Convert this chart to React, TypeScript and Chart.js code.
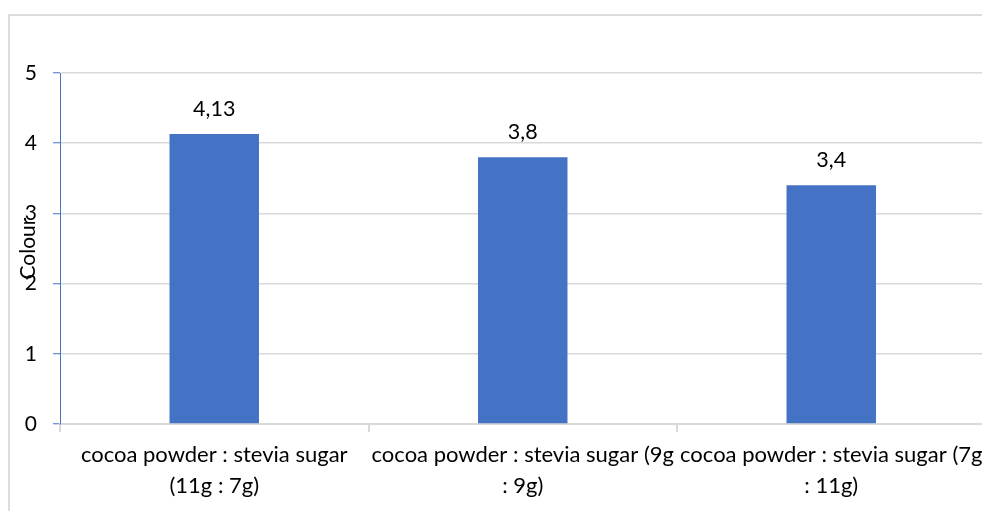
import React, { useEffect, useRef } from "react";
import { Chart, registerables } from "chart.js";

Chart.register(...registerables);

const categories: string[][] = [
  ["cocoa powder : stevia sugar", "(11g : 7g)"],
  ["cocoa powder : stevia sugar (9g", ": 9g)"],
  ["cocoa powder : stevia sugar (7g", ": 11g)"],
];
const colourValues: number[] = [4.13, 3.8, 3.4];
const yTicks: number[] = [0, 1, 2, 3, 4, 5];
const yTitle = "Colour";

const FONT = "Lato";

const labelPlugin = {
  id: "valueLabels",
  afterDatasetsDraw(chart: any) {
    const ctx = chart.ctx;
    const meta = chart.getDatasetMeta(0);
    ctx.save();
    ctx.font = `21.5px ${FONT}`;
    ctx.fillStyle = "#000";
    ctx.textAlign = "center";
    ctx.textBaseline = "alphabetic";
    meta.data.forEach((bar: any, i: number) => {
      const v = chart.data.datasets[0].data[i] as number;
      ctx.fillText(String(v).replace(".", ","), bar.x, bar.y - 18);
    });
    ctx.restore();
  },
  afterDraw(chart: any) {
    const ctx = chart.ctx;
    const a = chart.chartArea;
    ctx.save();
    ctx.translate(28.5, (a.top + a.bottom) / 2);
    ctx.rotate(-Math.PI / 2);
    ctx.font = `21px ${FONT}`;
    ctx.fillStyle = "#000";
    ctx.textAlign = "center";
    ctx.textBaseline = "middle";
    ctx.fillText(yTitle, 0, 0);
    ctx.restore();
  },
};

export default function App() {
  const ref = useRef<HTMLCanvasElement>(null);
  useEffect(() => {
    if (!ref.current) return;
    const chart = new Chart(ref.current, {
      type: "bar",
      data: {
        labels: categories,
        datasets: [
          {
            data: colourValues,
            backgroundColor: "#4472c4",
            barPercentage: 0.29,
            categoryPercentage: 1,
          },
        ],
      },
      options: {
        responsive: false,
        animation: false,
        layout: { padding: { top: 73, right: 14.5, left: 0, bottom: 0 } },
        plugins: { legend: { display: false }, tooltip: { enabled: false } },
        scales: {
          x: {
            offset: true,
            grid: {
              offset: true,
              drawOnChartArea: false,
              drawTicks: true,
              tickLength: 8,
              tickColor: "#d9d9d9",
              lineWidth: 2,
            },
            border: { color: "#d9d9d9", width: 2 },
            ticks: {
              color: "#000",
              font: { family: FONT, size: 22, lineHeight: 1.38 },
              padding: 8,
              maxRotation: 0,
              autoSkip: false,
            },
            afterFit: (s: any) => {
              s.height = 87;
            },
          },
          y: {
            min: 0,
            max: 5,
            afterBuildTicks: (s: any) => {
              s.ticks = yTicks.map((v) => ({ value: v }));
            },
            grid: {
              color: "#d9d9d9",
              lineWidth: 1.5,
              tickColor: "#4472c4",
              tickLength: 7,
              tickWidth: 1,
            },
            border: { color: "#4472c4", width: 1 },
            ticks: {
              color: "#000",
              font: { family: FONT, size: 21 },
              padding: 16,
            },
            afterFit: (s: any) => {
              s.width = 60;
            },
          },
        },
      },
      plugins: [labelPlugin],
    });
    return () => chart.destroy();
  }, []);

  return (
    <div
      style={{
        position: "fixed",
        left: 0,
        top: 0,
        width: 982,
        height: 511,
        overflow: "hidden",
        background: "#fff",
      }}
    >
      <div
        style={{
          position: "absolute",
          left: 8,
          top: 14,
          width: 1000,
          height: 600,
          borderLeft: "2px solid #dcdcdc",
          borderTop: "2px solid #dcdcdc",
        }}
      />
      <canvas
        ref={ref}
        width={1000}
        height={511}
        style={{ position: "absolute", left: 0, top: 0, width: 1000, height: 511 }}
      />
    </div>
  );
}
